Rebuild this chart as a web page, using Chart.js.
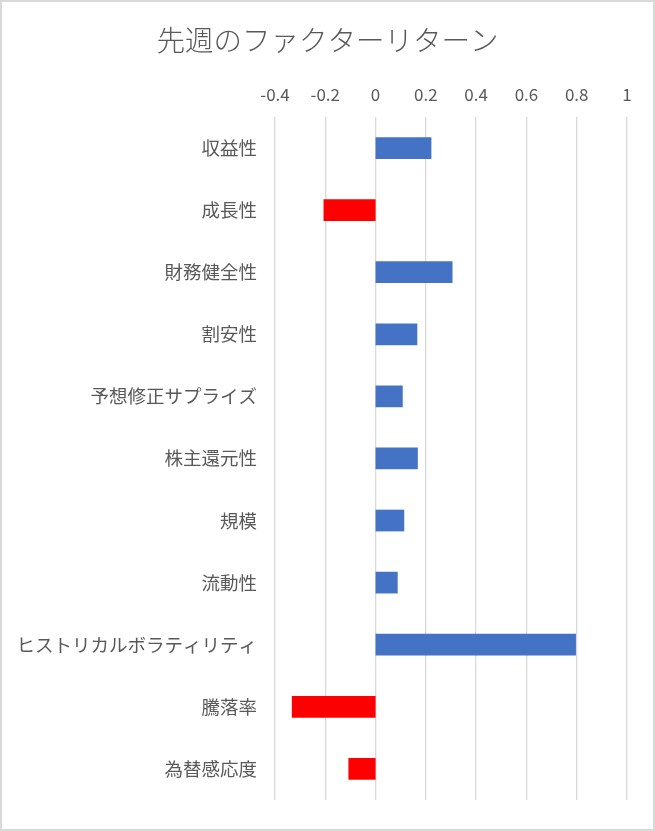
<!DOCTYPE html>
<html>
<head>
<meta charset="utf-8">
<script src="https://cdn.jsdelivr.net/npm/chart.js@4"></script>
<style>
  html, body { margin: 0; padding: 0; background: #fff; }
  #wrap { position: absolute; left: 0; top: 0; width: 655px; height: 831px; box-sizing: border-box; border: 2px solid #d9d9d9; background: #fff; }
  #c { display: block; }
</style>
</head>
<body>
<div id="wrap"><canvas id="c" width="651" height="827"></canvas></div>
<script>
const titleText = '先週のファクターリターン';
const categories = ['収益性', '成長性', '財務健全性', '割安性', '予想修正サプライズ', '株主還元性', '規模', '流動性', 'ヒストリカルボラティリティ', '騰落率', '為替感応度'];
const factorReturns = [0.222, -0.207, 0.306, 0.166, 0.108, 0.168, 0.114, 0.088, 0.797, -0.333, -0.108];
const xTickLabels = ['-0.4', '-0.2', '0', '0.2', '0.4', '0.6', '0.8', '1'];

const FONT = "'Noto Sans CJK JP', 'Noto Sans', sans-serif";
const TEXT = '#595959';
const TITLE_SIZE = 28.5;

// center the title over the whole canvas rather than the padded box
const centerTitle = {
  id: 'centerTitle',
  afterLayout(chart) {
    const t = chart.titleBlock;
    if (t) { t.left = 0; t.right = chart.width; }
  }
};

new Chart(document.getElementById('c'), {
  type: 'bar',
  data: {
    labels: categories,
    datasets: [{
      data: factorReturns,
      backgroundColor: ctx => (ctx.raw < 0 ? '#FF0000' : '#4472C4'),
      barPercentage: 0.35,
      categoryPercentage: 1.0,
      borderWidth: 0
    }]
  },
  plugins: [centerTitle],
  options: {
    indexAxis: 'y',
    responsive: false,
    animation: false,
    devicePixelRatio: 1,
    layout: { padding: { left: 0, right: 26, top: 0, bottom: 23 } },
    plugins: {
      legend: { display: false },
      tooltip: { enabled: false },
      title: {
        display: true,
        text: titleText,
        color: TEXT,
        font: { family: FONT, size: TITLE_SIZE, weight: '300', lineHeight: 1.2 },
        padding: { top: 21, bottom: 10 }
      }
    },
    scales: {
      x: {
        position: 'top',
        min: -0.4,
        max: 1,
        ticks: {
          stepSize: 0.2,
          padding: 12,
          color: TEXT,
          font: { family: FONT, size: 17, lineHeight: 1.2 },
          maxRotation: 0,
          autoSkip: false,
          callback: (v, i) => xTickLabels[i]
        },
        grid: { color: '#d9d9d9', lineWidth: 1.3, drawTicks: false },
        border: { display: false },
        afterFit: s => { s.height = 115 - (21 + TITLE_SIZE * 1.2 + 10); }
      },
      y: {
        ticks: {
          padding: 18,
          color: TEXT,
          font: { family: FONT, size: 18.5 },
          autoSkip: false
        },
        grid: { display: false, drawTicks: false },
        border: { display: false },
        afterFit: s => { s.width = 273; }
      }
    }
  }
});
</script>
</body>
</html>
